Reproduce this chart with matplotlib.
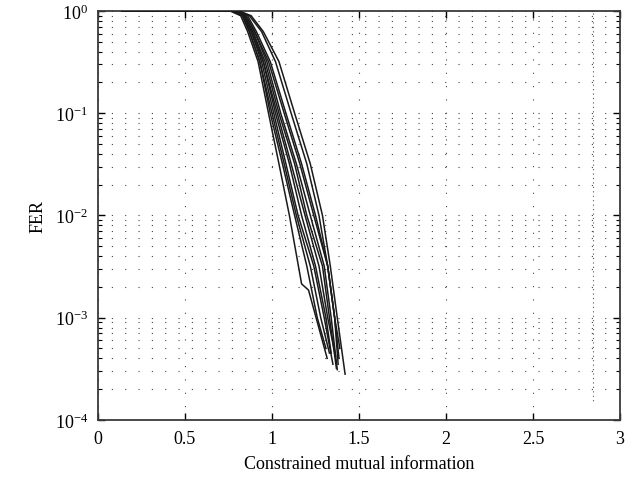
import matplotlib
matplotlib.use('Agg')
import matplotlib.pyplot as plt
import numpy as np

plt.rcParams['font.family'] = ['Liberation Serif', 'DejaVu Serif']
plt.rcParams['mathtext.fontset'] = 'custom'
plt.rcParams['mathtext.rm'] = 'Liberation Serif'
plt.rcParams['mathtext.it'] = 'Liberation Serif:italic'

# constrained mutual information (x) and FER for each simulated code
x_curves = [
    [0.14, 0.76, 0.82, 0.86, 0.92, 0.98, 1.04, 1.10, 1.17, 1.21, 1.317],
    [0.14, 0.77, 0.83, 0.87, 0.93, 0.99, 1.06, 1.13, 1.20, 1.26, 1.31],
    [0.14, 0.77, 0.83, 0.87, 0.93, 1.00, 1.07, 1.14, 1.22, 1.28, 1.33],
    [0.14, 0.77, 0.83, 0.88, 0.94, 1.01, 1.08, 1.15, 1.24, 1.30, 1.35],
    [0.14, 0.78, 0.84, 0.88, 0.95, 1.02, 1.10, 1.17, 1.25, 1.31, 1.34],
    [0.14, 0.78, 0.84, 0.89, 0.95, 1.03, 1.11, 1.19, 1.27, 1.32, 1.365],
    [0.14, 0.78, 0.84, 0.89, 0.96, 1.04, 1.13, 1.20, 1.29, 1.33, 1.37],
    [0.14, 0.79, 0.85, 0.90, 0.97, 1.05, 1.14, 1.22, 1.30, 1.34, 1.375],
    [0.14, 0.79, 0.85, 0.90, 0.98, 1.07, 1.16, 1.24, 1.32, 1.36, 1.38],
    [0.14, 0.80, 0.86, 0.91, 0.99, 1.08, 1.17, 1.25, 1.32, 1.36, 1.385],
    [0.14, 0.81, 0.87, 0.94, 1.02, 1.11, 1.20, 1.27, 1.32, 1.36, 1.39],
    [0.14, 0.81, 0.88, 0.95, 1.04, 1.13, 1.22, 1.29, 1.335, 1.375, 1.42],
]
fer_curves = [
    [1, 1, 0.9, 0.63, 0.32, 0.1, 0.032, 0.01, 0.00214, 0.00186, 4.0e-4],
    [1, 1, 0.9, 0.63, 0.32, 0.1, 0.032, 0.01, 0.0032, 0.001, 5.0e-4],
    [1, 1, 0.9, 0.63, 0.32, 0.1, 0.032, 0.01, 0.0032, 0.001, 4.5e-4],
    [1, 1, 0.9, 0.63, 0.32, 0.1, 0.032, 0.01, 0.0032, 0.001, 3.5e-4],
    [1, 1, 0.9, 0.63, 0.32, 0.1, 0.032, 0.01, 0.0032, 0.001, 4.5e-4],
    [1, 1, 0.9, 0.63, 0.32, 0.1, 0.032, 0.01, 0.0032, 0.001, 4.2e-4],
    [1, 1, 0.9, 0.63, 0.32, 0.1, 0.032, 0.01, 0.0032, 0.001, 3.2e-4],
    [1, 1, 0.9, 0.63, 0.32, 0.1, 0.032, 0.01, 0.0032, 0.001, 3.1e-4],
    [1, 1, 0.9, 0.63, 0.32, 0.1, 0.032, 0.01, 0.0032, 0.001, 3.5e-4],
    [1, 1, 0.9, 0.63, 0.32, 0.1, 0.032, 0.01, 0.0032, 0.001, 4.0e-4],
    [1, 1, 0.9, 0.63, 0.32, 0.1, 0.032, 0.01, 0.0032, 0.001, 5.0e-4],
    [1, 1, 0.9, 0.63, 0.32, 0.1, 0.032, 0.01, 0.0032, 0.001, 2.8e-4],
]

# stray dotted column in the scanned figure
stray_x = [2.845, 2.845]
stray_fer = [0.95, 1.5e-4]

xticks = [0, 0.5, 1, 1.5, 2, 2.5, 3]
xticklabels = ['0', '0.5', '1', '1.5', '2', '2.5', '3']
yticks = [1e-4, 1e-3, 1e-2, 1e-1, 1]
yticklabels = [r'$10^{-4}$', r'$10^{-3}$', r'$10^{-2}$', r'$10^{-1}$', r'$10^{0}$']

fig = plt.figure(figsize=(6.36, 4.81), dpi=100)
ax = fig.add_axes([0.154, 0.125, 0.821, 0.85])

for xs, fs in zip(x_curves, fer_curves):
    ax.plot(xs, fs, color='#1a1a1a', lw=1.1, zorder=3)

ax.plot(stray_x, stray_fer, color='#555555', lw=0.8, linestyle=(0, (1, 3)), zorder=2)

ax.set_yscale('log')
ax.set_xlim(0, 3)
ax.set_ylim(1e-4, 1)
ax.set_xticks(xticks)
ax.set_xticklabels(xticklabels)
ax.set_yticks(yticks)
ax.set_yticklabels(yticklabels)

ax.grid(True, which='major', axis='both', color='#444444', lw=0.8, linestyle=(0, (1, 11)))
ax.grid(True, which='minor', axis='y', color='#444444', lw=0.8, linestyle=(0, (1, 11)))

ax.tick_params(which='both', direction='in', top=True, right=True, labelsize=13, pad=7)
ax.tick_params(which='major', length=5, width=1)
ax.tick_params(which='minor', length=3, width=0.8)
ax.tick_params(axis='x', which='minor', bottom=False, top=False)

for sp in ax.spines.values():
    sp.set_color('#3a3a3a')
    sp.set_linewidth(1.3)

ax.set_xlabel('Constrained mutual information', fontsize=13, labelpad=6)
ax.set_ylabel('FER', fontsize=13, labelpad=6)

fig.savefig('out.png', dpi=100)
